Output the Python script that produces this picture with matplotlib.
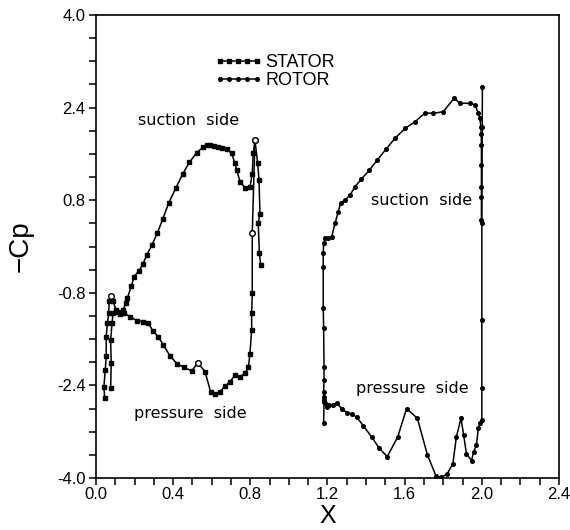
import numpy as np
import matplotlib
matplotlib.use("Agg")
import matplotlib.pyplot as plt
from matplotlib.ticker import MultipleLocator

plt.rcParams['font.family'] = ['Liberation Sans', 'DejaVu Sans']

# stator, suction side (leading edge -> trailing edge)
stator_ss_x = [0.076, 0.079, 0.076, 0.083, 0.088, 0.115, 0.140, 0.155, 0.162, 0.183,
               0.197, 0.223, 0.242, 0.263, 0.289, 0.318, 0.346, 0.378, 0.415, 0.449,
               0.484, 0.522, 0.556, 0.575, 0.591, 0.610, 0.634, 0.655, 0.677, 0.703,
               0.720, 0.729, 0.747, 0.772, 0.798, 0.810, 0.815, 0.824, 0.838, 0.845,
               0.850, 0.841, 0.847, 0.854]
stator_ss_y = [-2.45, -2.02, -1.62, -1.33, -1.155, -1.13, -1.10, -0.98, -0.895, -0.69,
               -0.52, -0.42, -0.31, -0.15, 0.02, 0.23, 0.475, 0.76, 1.016, 1.25,
               1.455, 1.62, 1.72, 1.75, 1.75, 1.74, 1.72, 1.71, 1.68, 1.61,
               1.44, 1.32, 1.12, 1.016, 1.02, 1.26, 1.61, 1.84, 1.44, 1.15,
               0.57, 0.40, -0.12, -0.32]

# stator, pressure side (leading edge -> trailing edge)
stator_ps_x = [0.045, 0.041, 0.048, 0.053, 0.053, 0.059, 0.066, 0.068, 0.076, 0.088,
               0.105, 0.123, 0.147, 0.176, 0.211, 0.245, 0.271, 0.294, 0.323, 0.349,
               0.384, 0.421, 0.458, 0.496, 0.527, 0.565, 0.594, 0.617, 0.643, 0.669,
               0.695, 0.720, 0.747, 0.772, 0.790, 0.798, 0.807, 0.807, 0.810, 0.810,
               0.824]
stator_ps_y = [-2.62, -2.42, -2.13, -1.90, -1.56, -1.33, -1.155, -0.95, -0.855, -0.95,
               -1.10, -1.16, -1.155, -1.21, -1.28, -1.30, -1.32, -1.455, -1.56, -1.70,
               -1.89, -2.03, -2.09, -2.15, -2.01, -2.16, -2.51, -2.55, -2.51, -2.41,
               -2.34, -2.22, -2.25, -2.19, -2.09, -1.85, -1.44, -1.155, -0.81, 0.23,
               1.84]
# points drawn as open symbols in the original
stator_open_idx = [8, 24, 39, 40]

# rotor, suction side
rotor_ss_x = [1.180, 1.180, 1.180, 1.182, 1.182, 1.180, 1.178, 1.178, 1.178, 1.180,
              1.187, 1.204, 1.222, 1.239, 1.256, 1.268, 1.291, 1.317, 1.343, 1.374,
              1.417, 1.458, 1.503, 1.550, 1.602, 1.654, 1.706, 1.749, 1.800, 1.856,
              1.887, 1.939, 1.965, 1.982, 1.990, 1.995, 1.997, 1.998, 1.998, 1.998,
              1.998, 1.998]
rotor_ss_y = [-2.60, -2.68, -2.51, -2.31, -2.08, -1.41, -1.07, -0.35, -0.12, 0.055,
              0.14, 0.14, 0.17, 0.40, 0.60, 0.757, 0.80, 0.89, 1.034, 1.16,
              1.32, 1.495, 1.68, 1.87, 2.04, 2.156, 2.31, 2.30, 2.33, 2.56,
              2.474, 2.474, 2.445, 2.30, 2.215, 2.07, 1.95, 1.75, 1.41, 1.03,
              0.86, 0.46]

# rotor, pressure side
rotor_ps_x = [1.180, 1.182, 1.190, 1.200, 1.210, 1.230, 1.248, 1.274, 1.300, 1.325,
              1.352, 1.386, 1.429, 1.469, 1.510, 1.564, 1.610, 1.666, 1.718, 1.763,
              1.790, 1.820, 1.850, 1.868, 1.892, 1.906, 1.920, 1.947, 1.957, 1.972,
              1.982, 1.991, 2.000, 2.000, 2.000, 2.000, 2.002, 2.003]
rotor_ps_y = [-3.05, -2.65, -2.72, -2.78, -2.74, -2.74, -2.71, -2.80, -2.87, -2.89,
              -2.95, -3.10, -3.29, -3.49, -3.63, -3.29, -2.80, -2.97, -3.60, -3.97,
              -3.99, -3.93, -3.75, -3.29, -2.97, -3.26, -3.58, -3.70, -3.55, -3.43,
              -3.14, -3.05, -3.00, -2.45, -1.27, 0.40, 2.07, 2.76]

x_ticks = [0.0, 0.4, 0.8, 1.2, 1.6, 2.0, 2.4]
y_ticks = [-4.0, -2.4, -0.8, 0.8, 2.4, 4.0]

fig = plt.figure(figsize=(5.7, 5.3), dpi=100)
ax = fig.add_axes([0.1684, 0.0981, 0.8123, 0.8736])

sty_s = dict(color='black', lw=1.1, marker='s', ms=3.5)
sty_r = dict(color='black', lw=1.1, marker='o', ms=2.6)
ax.plot(stator_ss_x, stator_ss_y, label='STATOR', **sty_s)
ax.plot(stator_ps_x, stator_ps_y, **sty_s)
ax.plot([stator_ps_x[i] for i in stator_open_idx], [stator_ps_y[i] for i in stator_open_idx],
        ls='none', marker='o', ms=4, mfc='white', mec='black', mew=1.0)
ax.plot(rotor_ss_x, rotor_ss_y, label='ROTOR', **sty_r)
ax.plot(rotor_ps_x, rotor_ps_y, **sty_r)

ax.set_xlim(0.0, 2.4)
ax.set_ylim(-4.0, 4.0)
ax.set_xticks(x_ticks)
ax.set_yticks(y_ticks)
ax.xaxis.set_minor_locator(MultipleLocator(0.1))
ax.yaxis.set_minor_locator(MultipleLocator(0.4))
ax.xaxis.set_major_formatter(plt.FormatStrFormatter('%.1f'))
ax.yaxis.set_major_formatter(plt.FormatStrFormatter('%.1f'))
ax.tick_params(which='both', direction='out', length=5, width=1.1, labelsize=12)
ax.tick_params(axis='x', pad=1.5)
ax.tick_params(axis='y', pad=2.5)
for s in ax.spines.values():
    s.set_linewidth(1.2)

ax.set_xlabel('X', fontsize=18)
ax.set_ylabel('\u2212Cp', fontsize=20)
ax.xaxis.set_label_coords(0.5, -0.056)
ax.yaxis.set_label_coords(-0.135, 0.5)

ann = dict(fontsize=11.5, ha='center', va='center', family='DejaVu Sans')
ax.text(0.482, 2.17, 'suction  side', **ann)
ax.text(0.489, -2.89, 'pressure  side', **ann)
ax.text(1.688, 0.79, 'suction  side', **ann)
ax.text(1.640, -2.46, 'pressure  side', **ann)

ax.legend(loc='upper left', bbox_to_anchor=(0.257, 0.915), frameon=False,
          fontsize=13, handlelength=2.6, handletextpad=0.2, labelspacing=0.05,
          borderpad=0, borderaxespad=0, numpoints=5)

fig.savefig('out.png', dpi=100)
